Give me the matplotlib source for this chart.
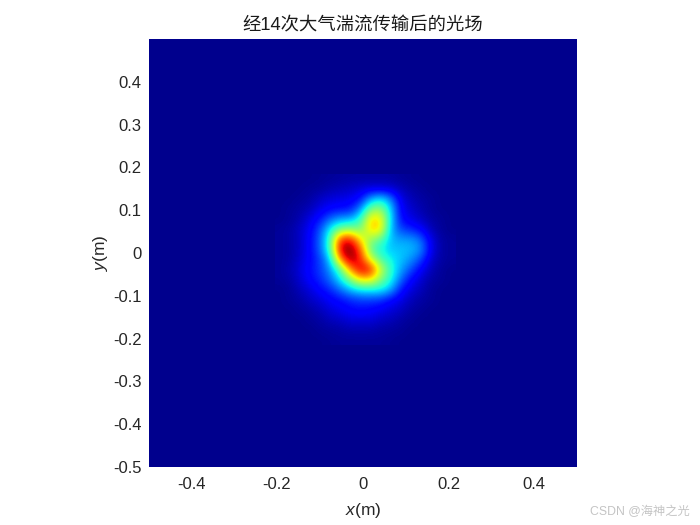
#!/usr/bin/env python3
import matplotlib
matplotlib.use("Agg")
import matplotlib.pyplot as plt
import numpy as np

plt.rcParams["font.family"] = ["Liberation Sans", "Noto Sans CJK SC", "DejaVu Sans"]
plt.rcParams["mathtext.fontset"] = "custom"
plt.rcParams["mathtext.it"] = "Liberation Sans:italic"
plt.rcParams["mathtext.rm"] = "Liberation Sans"

# intensity, grid around the beam
x_left, x_right = -0.194, 0.2033
y_top, y_bottom = 0.1706, -0.2033
field = [
    [0, 0, 0, 0, .005, .01, .015, .02, .02, .02, .02, .02, .01, .005, 0, 0, 0, 0],
    [0, 0, 0, .01, .015, .03, .04, .05, .07, .08, .08, .07, .04, .02, .01, 0, 0, 0],
    [0, 0, .01, .02, .05, .07, .08, .09, .12, .28, .35, .25, .08, .04, .02, .01, 0, 0],
    [0, .01, .02, .04, .08, .11, .12, .13, .25, .50, .53, .33, .10, .06, .03, .01, 0, 0],
    [0, .01, .03, .08, .13, .22, .28, .29, .40, .68, .67, .34, .12, .08, .05, .02, .01, 0],
    [.01, .02, .05, .10, .19, .36, .49, .52, .48, .69, .68, .30, .18, .15, .11, .04, .01, 0],
    [.01, .02, .05, .11, .21, .43, .86, .90, .65, .52, .46, .30, .27, .27, .22, .08, .02, .01],
    [.01, .02, .05, .11, .21, .42, .94, 1.02, .82, .46, .36, .31, .31, .30, .26, .09, .02, .01],
    [.01, .02, .06, .11, .17, .32, .76, .98, .88, .62, .44, .36, .31, .26, .18, .06, .02, .01],
    [.01, .03, .07, .12, .17, .26, .44, .75, .94, .90, .60, .40, .28, .19, .10, .04, .01, 0],
    [.01, .02, .06, .11, .15, .22, .34, .50, .66, .66, .50, .38, .22, .11, .06, .02, .01, 0],
    [0, .01, .04, .07, .11, .15, .22, .30, .35, .36, .36, .29, .13, .07, .04, .01, 0, 0],
    [0, .01, .02, .05, .07, .10, .12, .15, .17, .17, .16, .11, .08, .04, .02, .01, 0, 0],
    [0, 0, .01, .02, .04, .07, .09, .11, .12, .11, .09, .07, .05, .02, .01, 0, 0, 0],
    [0, 0, 0, .01, .02, .04, .05, .07, .07, .07, .05, .04, .02, .01, 0, 0, 0, 0],
    [0, 0, 0, 0, .01, .015, .02, .03, .03, .03, .02, .015, .01, 0, 0, 0, 0, 0],
    [0, 0, 0, 0, 0, .005, .01, .01, .01, .01, .01, .005, 0, 0, 0, 0, 0, 0],
]
x_ticks = [-0.4, -0.2, 0, 0.2, 0.4]
y_ticks = [-0.5, -0.4, -0.3, -0.2, -0.1, 0, 0.1, 0.2, 0.3, 0.4]
x_labels = ["-0.4", "-0.2", "0", "0.2", "0.4"]
y_labels = ["-0.5", "-0.4", "-0.3", "-0.2", "-0.1", "0", "0.1", "0.2", "0.3", "0.4"]

fig = plt.figure(figsize=(7, 5.25), dpi=100)
ax = fig.add_axes([148.5 / 700, 1 - 467 / 525, 428.5 / 700, 428 / 525])

cmap = plt.get_cmap("jet")
vmin, vmax = -0.014, 1.0
ax.set_facecolor(cmap((0 - vmin) / (vmax - vmin)))
dx = (x_right - x_left) / (len(field[0]) - 1) / 2
dy = (y_top - y_bottom) / (len(field) - 1) / 2
ax.imshow(np.array(field), cmap=cmap, vmin=vmin, vmax=vmax, interpolation="bicubic", origin="upper",
          extent=[x_left - dx, x_right + dx, y_bottom - dy, y_top + dy])
ax.set_xlim(-0.5, 0.5)
ax.set_ylim(-0.5, 0.5)
ax.set_aspect("auto")
ax.set_xticks(x_ticks, x_labels)
ax.set_yticks(y_ticks, y_labels)
ax.tick_params(length=0, labelsize=12, labelcolor="#262626", pad=7)
ax.tick_params(axis="y", pad=5)
for s in ax.spines.values():
    s.set_visible(False)

ax.set_title("经14次大气湍流传输后的光场", fontsize=13.2, color="#1a1a1a", pad=6)
ax.set_xlabel(r"$\it{x}$(m)", fontsize=12.5, color="#262626", labelpad=7)
ax.set_ylabel(r"$\it{y}$(m)", fontsize=12.5, color="#262626", labelpad=2)

fig.text(640 / 700, 1 - 512 / 525, "CSDN @海神之光", fontsize=8.8, color="#c4c4c4", ha="center", va="center")

fig.savefig("out.png", dpi=100)
plt.close(fig)
